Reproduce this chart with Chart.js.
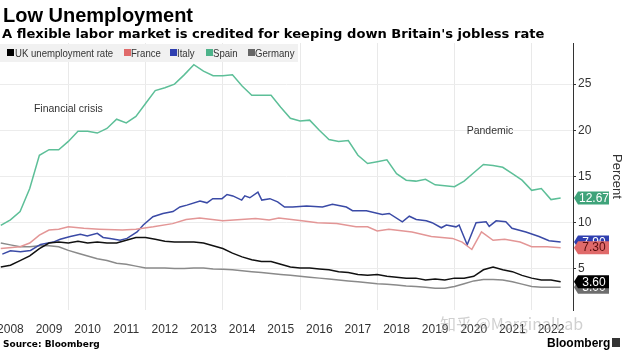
<!DOCTYPE html>
<html>
<head>
<meta charset="utf-8">
<script src="https://cdn.jsdelivr.net/npm/chart.js@4.4.0/dist/chart.umd.min.js"></script>
<style>
  body { margin: 0; background: #fff; }
  #wrap { position: relative; width: 624px; height: 351px; overflow: hidden; font-family: "Liberation Sans", Arial, sans-serif; color: #000; }
  #chart { position: absolute; left: 0; top: 0; }
  .title { position: absolute; left: 3px; top: 4px; font-size: 20px; font-weight: bold; line-height: 22px; white-space: nowrap; }
  .subtitle { position: absolute; left: 2px; top: 26px; font-family: "DejaVu Sans", sans-serif; font-size: 13.1px; font-weight: bold; line-height: 16px; white-space: nowrap; }
  .legend { position: absolute; left: 0; top: 44px; width: 298px; height: 18px; background: #f1f1f1; }
  .legend span { position: absolute; top: 3px; font-size: 11.3px; line-height: 12px; color: #333; white-space: nowrap; transform: scaleX(0.85); transform-origin: 0 0; }
  .legend i { position: absolute; top: 5px; width: 7px; height: 7px; }
  .source { position: absolute; left: 3px; top: 339px; font-family: "DejaVu Sans", sans-serif; font-size: 9px; font-weight: bold; line-height: 11px; }
  .brand { position: absolute; left: 547px; top: 336px; font-size: 12px; font-weight: bold; line-height: 14px; }
  .brand-icon { position: absolute; left: 612px; top: 338px; width: 8px; height: 9px; background: #333; }
  .mark { position: absolute; left: 440px; top: 313px; font-family: "Noto Sans CJK SC", sans-serif; font-size: 16px; line-height: 20px; color: rgba(150, 150, 150, 0.45); white-space: nowrap; }
</style>
</head>
<body>
<div id="wrap">
  <canvas id="chart" width="624" height="351"></canvas>
  <div class="title">Low Unemployment</div>
  <div class="subtitle">A flexible labor market is credited for keeping down Britain's jobless rate</div>
  <div class="legend">
    <i style="left:7px;background:#000"></i><span style="left:15px">UK unemployment rate</span>
    <i style="left:124px;background:#e06a6a"></i><span style="left:131px">France</span>
    <i style="left:170px;background:#2f3fb0"></i><span style="left:177px">Italy</span>
    <i style="left:206px;background:#4db38a"></i><span style="left:213px">Spain</span>
    <i style="left:248px;background:#666"></i><span style="left:255px">Germany</span>
  </div>
  <div class="mark">知乎 @MarginalLab</div>
  <div class="source">Source: Bloomberg</div>
  <div class="brand">Bloomberg</div>
  <div class="brand-icon"></div>
</div>
<script>
// quarterly dates (decimal years), shared by Spain, UK and Germany
const quarterDates = [
  2008.25, 2008.5, 2008.75,
  2009.0, 2009.25, 2009.5, 2009.75,
  2010.0, 2010.25, 2010.5, 2010.75,
  2011.0, 2011.25, 2011.5, 2011.75,
  2012.0, 2012.25, 2012.5, 2012.75,
  2013.0, 2013.25, 2013.5, 2013.75,
  2014.0, 2014.25, 2014.5, 2014.75,
  2015.0, 2015.25, 2015.5, 2015.75,
  2016.0, 2016.25, 2016.5, 2016.75,
  2017.0, 2017.25, 2017.5, 2017.75,
  2018.0, 2018.25, 2018.5, 2018.75,
  2019.0, 2019.25, 2019.5, 2019.75,
  2020.0, 2020.25, 2020.5, 2020.75,
  2021.0, 2021.25, 2021.5, 2021.75,
  2022.0, 2022.25, 2022.5, 2022.75
];

const spainRate = [
  9.7, 10.3, 11.2,
  13.7, 17.3, 17.9, 17.9,
  18.8, 19.9, 19.9, 19.7,
  20.2, 21.2, 20.8, 21.5,
  22.9, 24.3, 24.6, 25.0,
  26.0, 27.1, 26.4, 25.9,
  25.9, 26.0, 24.8, 23.8,
  23.8, 23.8, 22.5, 21.3,
  21.0, 21.1, 20.0, 19.0,
  18.8, 18.9, 17.3, 16.4,
  16.6, 16.8, 15.3, 14.6,
  14.5, 14.7, 14.1, 14.0,
  13.9, 14.5, 15.4, 16.3,
  16.2, 16.0, 15.3, 14.6,
  13.5, 13.7, 12.5, 12.67
];

const ukRate = [
  5.2, 5.4, 5.9,
  6.4, 7.2, 7.8, 7.9,
  7.8, 8.0, 7.8, 7.9,
  7.8, 7.8, 8.1, 8.4,
  8.4, 8.2, 8.0, 7.9,
  7.9, 7.9, 7.8, 7.5,
  7.2, 6.7, 6.3, 6.0,
  5.8, 5.8, 5.5, 5.2,
  5.1, 5.1, 5.0, 4.9,
  4.7, 4.6, 4.4, 4.3,
  4.4, 4.2, 4.1, 4.0,
  4.0, 3.8, 3.9, 3.8,
  4.0, 4.0, 4.2, 4.9,
  5.2, 4.9, 4.7, 4.3,
  4.0, 3.8, 3.8, 3.6
];

const germanyRate = [
  7.8, 7.6, 7.4,
  7.4, 7.5, 7.5, 7.4,
  7.0, 6.7, 6.4, 6.1,
  5.9, 5.6, 5.5, 5.3,
  5.1, 5.1, 5.1, 5.05,
  5.05, 5.1, 5.1, 5.0,
  4.95, 4.9, 4.8, 4.7,
  4.6, 4.5, 4.4, 4.3,
  4.2, 4.1, 4.0, 3.9,
  3.8, 3.7, 3.6, 3.5,
  3.4, 3.35, 3.25, 3.15,
  3.1, 3.0, 2.9, 2.9,
  3.1, 3.4, 3.7, 3.85,
  3.85, 3.8, 3.6, 3.35,
  3.1, 3.0, 3.0, 3.0
];

const franceDates = [
  2008.25, 2008.75, 2009.0, 2009.25, 2009.5, 2009.75, 2010.0, 2010.4, 2010.8,
  2011.4, 2011.75, 2012.2, 2012.7, 2013.05, 2013.4, 2014.0, 2014.85, 2015.2,
  2015.45, 2016.05, 2016.45, 2016.95, 2017.45, 2017.75, 2018.0, 2018.3, 2018.9,
  2019.4, 2019.95, 2020.2, 2020.45, 2020.7, 2021.0, 2021.3, 2021.7, 2022.0,
  2022.4, 2022.75
];
const franceRate = [
  7.2, 7.4, 7.8, 8.65, 9.2, 9.3, 9.55, 9.4, 9.3,
  9.2, 9.3, 9.55, 9.9, 10.35, 10.5, 10.2, 10.45, 10.3,
  10.5, 10.2, 10.0, 9.9, 9.55, 9.55, 9.1, 9.3, 9.0,
  8.5, 8.3, 7.9, 7.1, 9.0, 8.1, 8.2, 7.9, 7.4,
  7.4, 7.3
];

const italyDates = [
  2008.29, 2008.5, 2008.76, 2009.02, 2009.28, 2009.61, 2009.79, 2010.05, 2010.31,
  2010.49, 2010.75, 2010.9, 2011.08, 2011.34, 2011.52, 2011.78, 2011.94, 2012.19,
  2012.45, 2012.71, 2012.89, 2013.07, 2013.41, 2013.59, 2013.74, 2013.98, 2014.11,
  2014.26, 2014.49, 2014.57, 2014.7, 2014.91, 2015.01, 2015.22, 2015.42, 2015.6,
  2015.81, 2016.17, 2016.58, 2016.84, 2017.2, 2017.36, 2017.72, 2018.13, 2018.31,
  2018.65, 2018.83, 2019.01, 2019.27, 2019.42, 2019.66, 2019.79, 2020.04, 2020.12,
  2020.33, 2020.56, 2020.82, 2020.9, 2021.08, 2021.33, 2021.49, 2021.85, 2022.19,
  2022.45, 2022.75
];
const italyRate = [
  6.6, 6.95, 6.85, 7.0, 7.65, 7.9, 8.2, 8.5, 8.75,
  8.55, 8.85, 8.4, 8.3, 8.1, 8.3, 9.0, 9.75, 10.65,
  11.0, 11.2, 11.7, 11.9, 12.35, 12.15, 12.6, 12.6, 13.05,
  12.9, 12.45, 12.9, 12.7, 13.3, 12.45, 12.6, 12.25, 11.7,
  11.7, 11.8, 11.7, 12.0, 11.7, 11.3, 11.3, 10.9, 11.0,
  10.1, 10.7, 10.35, 10.2, 10.0, 9.45, 9.75, 9.55, 9.75,
  7.6, 10.0, 10.1, 9.6, 10.2, 10.1, 9.4, 9.0, 8.5,
  8.05, 7.9
];

const yearLabels = [2008, 2009, 2010, 2011, 2012, 2013, 2014, 2015, 2016, 2017, 2018, 2019, 2020, 2021, 2022];
const gridYears = [2010, 2012, 2014, 2016, 2018, 2020, 2022];
const percentTicks = [5, 10, 15, 20, 25];

const notes = [
  { text: 'Financial crisis', t: 2010.0, v: 22.3 },
  { text: 'Pandemic', t: 2020.92, v: 19.9 }
];

const points = (dates, vals) => dates.map((t, i) => ({ x: t, y: vals[i] }));

const series = [
  { label: 'UK unemployment rate', data: points(quarterDates, ukRate), color: '#111111', tag: '#000000', text: '#ffffff' },
  { label: 'France', data: points(franceDates, franceRate), color: '#e39696', tag: '#e06a6a', text: '#5a0d0d' },
  { label: 'Italy', data: points(italyDates, italyRate), color: '#3a4aa6', tag: '#2f3fb0', text: '#ffffff' },
  { label: 'Spain', data: points(quarterDates, spainRate), color: '#5dbf98', tag: '#3fa37a', text: '#ffffff' },
  { label: 'Germany', data: points(quarterDates, germanyRate), color: '#8a8a8a', tag: '#6e6e6e', text: '#ffffff' }
];

// tags drawn back to front so UK and France sit on top
const tagOrder = ['Spain', 'Italy', 'France', 'Germany', 'UK unemployment rate'];

const endTags = {
  id: 'endTags',
  afterDraw(chart) {
    const { ctx, chartArea, scales: { x, y } } = chart;
    ctx.save();
    ctx.font = '10.5px "Liberation Sans", sans-serif';
    ctx.fillStyle = '#333';
    ctx.textAlign = 'center';
    ctx.textBaseline = 'middle';
    notes.forEach(n => ctx.fillText(n.text, x.getPixelForValue(n.t), y.getPixelForValue(n.v)));

    ctx.font = '12px "Liberation Sans", sans-serif';
    const x0 = chartArea.right + 1;
    tagOrder.forEach(name => {
      const s = series.find(d => d.label === name);
      const last = s.data[s.data.length - 1];
      const py = y.getPixelForValue(last.y);
      ctx.fillStyle = s.tag;
      ctx.beginPath();
      ctx.moveTo(x0, py);
      ctx.lineTo(x0 + 4, py - 6.5);
      ctx.lineTo(x0 + 35, py - 6.5);
      ctx.lineTo(x0 + 35, py + 6.5);
      ctx.lineTo(x0 + 4, py + 6.5);
      ctx.closePath();
      ctx.fill();
      ctx.fillStyle = s.text;
      ctx.fillText(last.y.toFixed(2), x0 + 20, py + 0.5);
    });
    ctx.restore();
  }
};

new Chart(document.getElementById('chart'), {
  type: 'line',
  data: {
    datasets: series.map(s => ({
      label: s.label,
      data: s.data,
      borderColor: s.color,
      borderWidth: 1.5,
      pointRadius: 0,
      tension: 0
    }))
  },
  options: {
    responsive: false,
    animation: false,
    layout: { padding: { top: 43, left: 0, right: 0, bottom: 0 } },
    plugins: { legend: { display: false }, tooltip: { enabled: false } },
    scales: {
      x: {
        type: 'linear',
        min: 2008.23,
        max: 2023.07,
        afterBuildTicks: axis => {
          const vals = yearLabels.map(yr => yr + 0.5).concat(gridYears).sort((a, b) => a - b);
          axis.ticks = vals.map(v => ({ value: v }));
        },
        afterFit: axis => { axis.height = 41; axis.paddingLeft = 0; axis.paddingRight = 0; },
        ticks: {
          autoSkip: false,
          maxRotation: 0,
          padding: 12,
          color: '#333',
          font: { family: 'Liberation Sans', size: 12 },
          callback: v => (v % 1 === 0.5 ? String(Math.floor(v)) : '')
        },
        grid: {
          drawTicks: false,
          color: c => (c.tick && c.tick.value % 1 === 0 ? '#e9e9e9' : 'rgba(0,0,0,0)')
        },
        border: { display: false }
      },
      y: {
        position: 'right',
        min: 0.55,
        max: 29.45,
        afterBuildTicks: axis => { axis.ticks = percentTicks.map(v => ({ value: v })); },
        afterFit: axis => { axis.width = 51; axis.paddingTop = 0; axis.paddingBottom = 0; },
        ticks: {
          padding: 2,
          color: '#333',
          font: { family: 'Liberation Sans', size: 12 }
        },
        grid: { color: '#ececec', tickLength: 3, tickColor: '#333' },
        border: { display: true, color: '#333', width: 1 },
        title: {
          display: true,
          text: 'Percent',
          color: '#333',
          padding: { top: 0, bottom: 0 },
          font: { family: 'Liberation Sans', size: 13 }
        }
      }
    }
  },
  plugins: [endTags]
});
</script>
</body>
</html>
